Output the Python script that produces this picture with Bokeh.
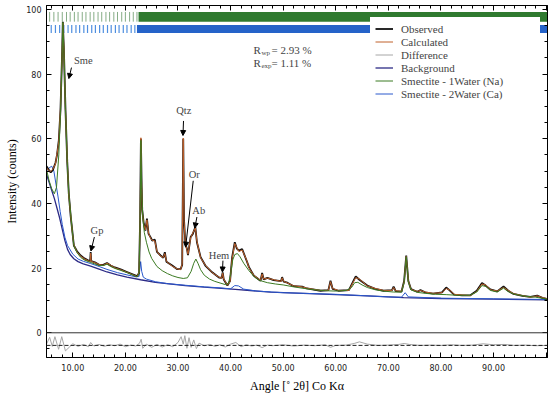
from bokeh.plotting import figure
from bokeh.models import (Range1d, LinearAxis, SingleIntervalTicker, NumeralTickFormatter,
                          CustomJSTickFormatter, Span, Label, Arrow, NormalHead, Legend, LegendItem)
from bokeh.embed import file_html
from bokeh.resources import INLINE

# ---------------- data ----------------
obs_x = [5.0, 5.4, 5.8, 6.2, 6.7, 7.0, 7.34, 7.66, 7.98, 8.1,
         8.3, 8.61, 8.94, 9.24, 9.6, 9.9, 10.2, 10.8, 11.5, 12.2,
         12.9, 13.3, 13.4, 13.5, 14.2, 15.0, 15.8, 16.5, 17.2, 18.0,
         19.1, 20.3, 21.5, 22.2, 22.6, 22.8, 22.95, 23.1, 23.2, 23.5,
         23.8, 24.1, 24.4, 24.8, 25.1, 25.6, 26.0, 26.7, 27.2, 27.5,
         27.8, 28.9, 29.8, 30.5, 30.8, 31.0, 31.15, 31.4, 31.7, 31.9,
         32.4, 32.8, 33.3, 33.6, 34.3, 35.2, 36.5, 37.8, 38.3, 38.5,
         38.7, 39.4, 39.9, 40.3, 40.8, 41.2, 41.6, 42.2, 43.0, 43.5,
         44.4, 45.7, 46.0, 46.3, 47.0, 48.2, 49.6, 49.8, 50.1, 50.8,
         52.0, 53.6, 54.5, 57.1, 58.6, 59.0, 59.4, 60.5, 62.5, 63.5,
         63.8, 64.5, 66.0, 67.5, 69.1, 70.7, 71.0, 71.4, 72.5, 73.0,
         73.4, 73.8, 74.3, 75.5, 76.1, 77.0, 78.5, 80.2, 81.0, 81.6,
         82.5, 84.0, 85.6, 86.8, 87.8, 88.5, 89.4, 90.7, 91.9, 92.8,
         93.8, 95.5, 97.0, 98.3, 99.3, 100.3]
obs_y = [51.5, 50.5, 49.6, 50.3, 52.5, 55.0, 59.5, 69.0, 87.0, 96.2,
         88.0, 69.0, 53.0, 43.0, 36.0, 31.6, 27.0, 25.2, 23.9, 23.0,
         22.4, 22.2, 25.0, 22.2, 21.8, 21.0, 21.0, 21.6, 20.8, 20.2,
         19.6, 18.8, 18.0, 17.5, 18.5, 35.0, 60.0, 45.0, 38.0, 33.7,
         31.6, 35.3, 30.6, 29.5, 28.5, 28.8, 25.0, 23.9, 23.2, 24.9,
         22.0, 20.8, 19.7, 19.7, 21.0, 60.0, 35.0, 27.5, 26.0, 24.0,
         29.6, 30.5, 32.7, 28.0, 23.4, 20.8, 18.7, 17.1, 17.0, 18.7,
         16.5, 14.6, 16.0, 23.4, 28.0, 26.0, 25.4, 25.9, 22.5, 20.3,
         17.7, 16.1, 18.5, 16.5, 17.0, 16.3, 16.0, 17.2, 15.8, 15.5,
         14.4, 14.3, 13.7, 13.0, 13.2, 16.1, 13.6, 13.0, 13.2, 16.5,
         17.4, 16.4, 14.6, 13.6, 13.0, 13.2, 14.3, 12.9, 12.7, 16.0,
         23.9, 16.0, 13.5, 12.7, 13.2, 12.5, 12.1, 12.5, 14.0, 13.2,
         11.8, 11.6, 11.6, 13.0, 15.4, 14.6, 13.4, 12.8, 14.3, 13.0,
         12.0, 11.4, 11.1, 11.5, 10.8, 10.4]
calc_y = [51.0, 50.2, 49.9, 50.6, 52.2, 55.3, 59.0, 69.5, 86.5, 95.8,
          88.4, 68.6, 53.4, 42.6, 36.3, 31.3, 27.2, 25.0, 23.7, 22.9,
          22.3, 22.0, 24.6, 22.1, 21.7, 21.1, 20.9, 21.5, 20.9, 20.1,
          19.5, 18.7, 17.9, 17.4, 18.6, 34.5, 60.3, 44.6, 37.6, 33.4,
          31.8, 34.9, 30.8, 29.2, 28.6, 28.4, 25.2, 23.7, 23.3, 24.5,
          22.1, 20.6, 19.8, 19.5, 21.3, 60.2, 34.6, 27.8, 25.7, 24.3,
          29.3, 30.8, 32.4, 28.3, 23.2, 20.9, 18.6, 17.2, 16.9, 18.4,
          16.6, 14.7, 15.8, 23.0, 27.6, 26.3, 25.1, 25.6, 22.7, 20.1,
          17.8, 16.2, 18.2, 16.6, 16.9, 16.4, 15.9, 17.0, 15.9, 15.4,
          14.5, 14.2, 13.8, 13.1, 13.1, 15.8, 13.7, 13.1, 13.1, 16.2,
          17.1, 16.6, 14.5, 13.7, 13.1, 13.1, 14.0, 13.0, 12.8, 15.7,
          23.6, 16.2, 13.4, 12.8, 13.1, 12.6, 12.2, 12.4, 13.7, 13.3,
          11.9, 11.7, 11.5, 12.8, 15.1, 14.8, 13.3, 12.9, 14.0, 13.1,
          12.1, 11.5, 11.0, 11.4, 10.9, 10.5]

w1_x = [5.0, 5.5, 6.0, 6.5, 6.9, 7.34, 7.66, 7.98, 8.1, 8.3,
        8.61, 8.94, 9.24, 9.9, 10.2, 10.8, 11.5, 12.2, 13.3, 15.0,
        15.8, 16.5, 17.2, 18.0, 19.1, 20.3, 21.5, 22.2, 22.6, 22.8,
        22.95, 23.1, 23.3, 23.6, 24.0, 24.5, 25.0, 26.0, 27.0, 28.0,
        29.0, 30.0, 31.0, 31.8, 32.5, 33.0, 33.4, 33.8, 34.3, 35.0,
        36.0, 37.0, 38.0, 39.0, 39.6, 40.0, 40.4, 40.8, 41.3, 41.8,
        42.5, 43.5, 44.5, 45.5, 47.0, 48.5, 50.0, 52.0, 54.0, 56.0,
        58.0, 60.0, 62.0, 63.0, 63.6, 64.2, 65.0, 66.0, 67.5, 69.0,
        71.0, 72.5, 73.0, 73.4, 73.8, 74.3, 75.5, 77.0, 79.0, 81.0,
        83.0, 85.5, 86.8, 87.8, 88.6, 89.4, 90.7, 91.9, 92.8, 94.0,
        96.0, 98.0, 100.3]
w1_y = [50.5, 47.0, 44.5, 43.0, 45.0, 55.0, 68.0, 86.5, 96.0, 88.0,
        69.0, 53.0, 43.0, 31.5, 27.0, 24.8, 23.3, 22.5, 21.8, 20.8,
        20.8, 21.2, 20.5, 19.9, 19.3, 18.6, 17.8, 17.3, 18.3, 34.0,
        59.5, 44.0, 36.0, 31.0, 28.0, 25.0, 23.0, 20.5, 19.2, 18.3,
        17.6, 17.1, 16.8, 17.0, 19.0, 21.5, 22.8, 21.5, 19.5, 17.8,
        16.6, 15.9, 15.4, 14.9, 15.3, 18.0, 22.5, 24.2, 24.5, 23.5,
        21.5, 19.2, 17.3, 16.2, 15.5, 15.1, 14.8, 14.2, 13.7, 13.3,
        13.0, 12.9, 13.1, 14.0, 15.5, 15.6, 14.8, 14.0, 13.3, 12.9,
        12.6, 12.6, 15.5, 23.5, 15.8, 13.3, 12.5, 12.2, 11.9, 11.8,
        11.6, 11.6, 12.6, 14.6, 14.3, 13.1, 12.6, 13.8, 12.7, 11.9,
        11.3, 11.0, 10.4]

w2_x = [5.0, 5.5, 6.0, 6.4, 6.8, 7.2, 7.6, 8.0, 8.5, 9.0,
        10.0, 11.0, 12.0, 13.4, 15.0, 16.5, 18.5, 20.3, 22.0, 22.6,
        22.9, 23.1, 23.4, 24.0, 25.7, 28.0, 31.4, 35.0, 38.0, 40.0,
        40.8, 41.5, 42.5, 45.0, 50.0, 60.0, 70.0, 72.5, 73.2, 73.8,
        80.0, 90.0, 100.3]
w2_y = [50.0, 51.0, 51.5, 50.0, 46.0, 42.0, 37.5, 33.5, 29.5, 27.0,
        24.3, 22.8, 22.1, 21.4, 20.5, 19.6, 18.6, 17.9, 17.3, 17.4,
        22.0, 19.0, 17.2, 16.6, 15.8, 15.2, 14.7, 14.2, 13.9, 13.6,
        14.6, 14.5, 13.5, 12.9, 12.4, 11.9, 11.1, 11.0, 12.4, 11.1,
        10.7, 10.5, 10.3]

bg_x = [5.0, 5.5, 6.0, 6.5, 7.0, 7.5, 8.0, 8.5, 9.0, 9.5,
        10.2, 11.0, 12.0, 13.4, 15.0, 16.5, 18.5, 20.3, 22.9, 25.7,
        31.4, 35.0, 40.9, 47.6, 55.0, 60.0, 66.0, 72.9, 80.0, 90.0,
        100.3]
bg_y = [49.0, 46.5, 44.0, 41.5, 38.5, 35.5, 32.0, 28.5, 25.8, 24.2,
        22.9, 22.0, 21.3, 20.6, 19.7, 18.8, 17.9, 17.2, 16.4, 15.6,
        14.6, 14.1, 13.4, 12.6, 12.1, 11.8, 11.4, 10.9, 10.6, 10.4,
        10.2]

diff_x = [5.0, 5.6, 6.1, 6.6, 7.3, 7.9, 8.6, 9.3, 10.0, 11.0,
          12.0, 13.0, 13.4, 14.0, 15.0, 16.0, 17.0, 18.0, 19.0, 20.0,
          21.0, 22.0, 22.7, 23.0, 23.3, 24.0, 25.0, 26.0, 27.0, 28.0,
          29.0, 30.0, 30.6, 31.0, 31.3, 31.7, 32.1, 32.5, 33.0, 33.5,
          34.0, 35.0, 36.0, 37.0, 38.0, 39.0, 40.0, 41.0, 42.0, 43.0,
          44.0, 45.0, 46.0, 47.0, 48.0, 50.0, 52.0, 54.0, 56.0, 58.0,
          59.0, 60.0, 62.0, 63.5, 64.5, 66.0, 68.0, 70.0, 72.0, 73.0,
          74.0, 76.0, 78.0, 80.0, 82.0, 84.0, 86.0, 88.0, 90.0, 92.0,
          94.0, 96.0, 98.0, 100.3]
diff_y = [-3.5, -1.4, -4.2, -1.2, -5.1, -1.2, -5.6, -4.5, -3.4, -4.2,
          -3.6, -4.3, -3.0, -4.1, -3.6, -4.2, -3.7, -4.0, -3.5, -4.3,
          -3.8, -4.1, -3.2, -2.0, -4.8, -3.5, -4.5, -3.6, -4.4, -3.7,
          -4.3, -3.0, -1.2, -3.5, -0.9, -4.8, -1.5, -4.5, -2.2, -4.9,
          -3.2, -4.0, -3.6, -4.2, -3.7, -4.4, -3.5, -3.0, -4.3, -3.7,
          -4.1, -3.8, -4.6, -3.8, -4.0, -3.7, -4.1, -3.8, -4.0, -3.7,
          -4.5, -3.9, -3.8, -3.3, -2.8, -3.5, -3.9, -3.8, -3.6, -3.3,
          -3.6, -3.9, -3.8, -3.9, -3.7, -3.9, -3.8, -3.4, -3.7, -3.6,
          -3.9, -3.8, -4.0, -3.9]
diff_zero = -3.9

# reflection markers (individual at low angle, dense band above)
refl_1w = [5.6, 6.4, 7.2, 8.0, 8.8, 9.5, 10.3, 11.0, 11.8, 12.5, 13.3, 14.0,
           14.8, 15.5, 16.3, 17.0, 17.8, 18.5, 19.3, 20.0, 20.8, 21.5, 22.2]
refl_2w = [5.9, 6.7, 7.5, 8.3, 9.1, 9.8, 10.6, 11.3, 12.1, 12.8, 13.6, 14.3,
           15.1, 15.8, 16.6, 17.3, 18.1, 18.8, 19.6, 20.3, 21.1, 21.8]
dense_1w = [22.5, 100.3]
dense_2w = [22.2, 100.3]

x_ticks_major = 10
y_ticks_major = 20

C_OBS = "#111111"
C_CALC = "#c0602a"
C_DIFF = "#a6a6a6"
C_BG = "#2c2a86"
C_W1 = "#3b7a22"
C_W2 = "#2a58cc"

SERIF = "Liberation Serif"

p = figure(width=550, height=398, output_backend="svg", toolbar_location=None,
           x_range=Range1d(5, 100.26), y_range=Range1d(-7.64, 101.2),
           min_border_left=46, min_border_right=3, min_border_top=5, min_border_bottom=41)
p.background_fill_color = "white"
p.border_fill_color = "white"
p.outline_line_color = "black"
p.outline_line_width = 1
p.xgrid.visible = False
p.ygrid.visible = False

# axes
p.xaxis.ticker = SingleIntervalTicker(interval=x_ticks_major, num_minor_ticks=5)
p.xaxis.formatter = NumeralTickFormatter(format="0.00")
p.xaxis.major_label_overrides = {100: ""}
p.yaxis.ticker = SingleIntervalTicker(interval=y_ticks_major, num_minor_ticks=4)
for ax in (p.xaxis[0], p.yaxis[0]):
    ax.major_tick_in = 5
    ax.major_tick_out = 0
    ax.minor_tick_in = 3
    ax.minor_tick_out = 0
    ax.axis_line_color = "black"
    ax.major_tick_line_color = "black"
    ax.minor_tick_line_color = "black"
    ax.major_label_text_font = "DejaVu Sans"
    ax.major_label_text_font_size = "8px"
    ax.major_label_text_color = "#222222"
    ax.axis_label_text_font = SERIF
    ax.axis_label_text_font_style = "normal"
    ax.axis_label_text_color = "black"
p.xaxis.axis_label = "Angle [˚ 2θ] Co Kα"
p.xaxis.axis_label_text_font_size = "12px"
p.xaxis.major_label_standoff = 6
p.xaxis.axis_label_standoff = 5
p.yaxis.axis_label = "Intensity (counts)"
p.yaxis.axis_label_text_font_size = "12px"
p.yaxis.major_label_standoff = 5
p.yaxis.axis_label_standoff = 4

blank = CustomJSTickFormatter(code="return ''")
top = LinearAxis(ticker=SingleIntervalTicker(interval=x_ticks_major, num_minor_ticks=5),
                 formatter=blank,
                 major_tick_in=5, major_tick_out=0, minor_tick_in=3, minor_tick_out=0,
                 major_label_text_font_size="0px", major_label_standoff=0,
                 axis_label_standoff=0, axis_line_color="black")
right = LinearAxis(ticker=SingleIntervalTicker(interval=y_ticks_major, num_minor_ticks=4),
                   formatter=blank,
                   major_tick_in=5, major_tick_out=0, minor_tick_in=3, minor_tick_out=0,
                   major_label_text_font_size="0px", major_label_standoff=0,
                   axis_label_standoff=0, axis_line_color="black")
p.add_layout(top, "above")
p.add_layout(right, "right")

# zero line and difference baseline
p.add_layout(Span(location=0, dimension="width", line_color="#333333", line_width=1))
p.add_layout(Span(location=diff_zero, dimension="width", line_color="#222222",
                  line_width=1, line_dash="4 2"))

# reflection markers
mk1 = (96.2, 99.2)
mk2 = (92.7, 95.2)
p.segment(x0=refl_1w, x1=refl_1w, y0=[mk1[0]] * len(refl_1w), y1=[mk1[1]] * len(refl_1w),
          line_color="#86ad86", line_width=1)
p.segment(x0=refl_2w, x1=refl_2w, y0=[mk2[0]] * len(refl_2w), y1=[mk2[1]] * len(refl_2w),
          line_color="#4f8fe0", line_width=1.2)
p.quad(left=[dense_1w[0]], right=[dense_1w[1]], bottom=[mk1[0]], top=[mk1[1]],
       fill_color="#2f7a2f", line_color=None)
p.quad(left=[dense_2w[0]], right=[dense_2w[1]], bottom=[mk2[0]], top=[mk2[1]],
       fill_color="#2563c9", line_color=None)

# curves
r_diff = p.line(diff_x, diff_y, line_color=C_DIFF, line_width=1)
r_bg = p.line(bg_x, bg_y, line_color=C_BG, line_width=1.3)
r_w2 = p.line(w2_x, w2_y, line_color=C_W2, line_width=1)
r_obs = p.line(obs_x, obs_y, line_color=C_OBS, line_width=1.8)
r_calc = p.line(obs_x, calc_y, line_color=C_CALC, line_width=1)
r_w1 = p.line(w1_x, w1_y, line_color=C_W1, line_width=1)

items = [LegendItem(label="Observed", renderers=[r_obs]),
         LegendItem(label="Calculated", renderers=[r_calc]),
         LegendItem(label="Difference", renderers=[r_diff]),
         LegendItem(label="Background", renderers=[r_bg]),
         LegendItem(label="Smectite - 1Water (Na)", renderers=[r_w1]),
         LegendItem(label="Smectite - 2Water (Ca)", renderers=[r_w2])]
legend = Legend(items=items, location=(324, 252), background_fill_color="white",
                background_fill_alpha=1, border_line_alpha=0, padding=5, spacing=0,
                label_height=13, glyph_height=13, glyph_width=18, label_standoff=8,
                label_width=134, label_text_font=SERIF, label_text_font_size="11px",
                margin=0)
p.add_layout(legend)

# R factors
for yv, sub, val in [(87.3, "wp", "= 2.93 %"), (83.3, "exp", "= 1.11 %")]:
    p.add_layout(Label(x=44.35, y=yv, text="R", text_font=SERIF, text_font_size="11px",
                       text_baseline="middle"))
    p.add_layout(Label(x=44.35, y=yv, x_offset=8, y_offset=-3, text=sub, text_font=SERIF,
                       text_font_size="7px", text_baseline="middle"))
    p.add_layout(Label(x=44.35, y=yv, x_offset=18, text=val, text_font=SERIF,
                       text_font_size="11px", text_baseline="middle"))

# phase labels and arrows
peaks = [("Sme", 12.0, 84.3, 9.75, 82.0, 9.25, 78.6),
         ("Qtz", 31.1, 68.6, 31.05, 65.5, 30.95, 61.0),
         ("Or", 33.1, 49.0, 32.9, 47.0, 31.45, 26.5),
         ("Ab", 33.95, 37.8, 33.6, 35.8, 33.2, 32.4),
         ("Gp", 14.6, 31.5, 14.1, 29.6, 13.45, 25.3),
         ("Hem", 37.8, 23.8, 38.55, 22.3, 38.45, 18.8)]
for t, tx, ty, x0, y0, x1, y1 in peaks:
    p.add_layout(Label(x=tx, y=ty, text=t, text_font=SERIF, text_font_size="10.5px",
                       text_align="center", text_baseline="middle"))
    p.add_layout(Arrow(end=NormalHead(size=5, fill_color="black", line_color="black"),
                       x_start=x0, y_start=y0, x_end=x1, y_end=y1,
                       line_color="black", line_width=1))

open("out.html", "w").write(file_html(p, INLINE))
